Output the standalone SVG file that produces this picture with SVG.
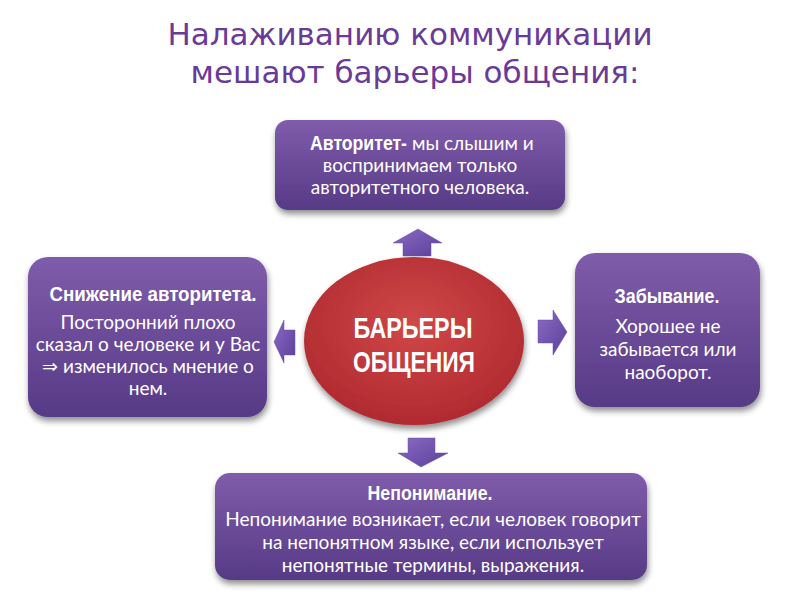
<svg xmlns="http://www.w3.org/2000/svg" width="800" height="600" viewBox="0 0 800 600">
<defs>
<linearGradient id="gBox" x1="0" y1="0" x2="0" y2="1">
<stop offset="0" stop-color="#7f5cab"/>
<stop offset="1" stop-color="#573a86"/>
</linearGradient>
<linearGradient id="gArrow" x1="0" y1="0" x2="1" y2="1">
<stop offset="0" stop-color="#8a6bc4"/>
<stop offset="1" stop-color="#5b3f99"/>
</linearGradient>
<radialGradient id="gEll" cx="0.5" cy="0.4" r="0.6">
<stop offset="0" stop-color="#d04848"/>
<stop offset="1" stop-color="#b02a30"/>
</radialGradient>
<filter id="sh" x="-10%" y="-10%" width="125%" height="130%">
<feGaussianBlur in="SourceAlpha" stdDeviation="3"/>
<feOffset dx="1" dy="4" result="b"/>
<feComponentTransfer><feFuncA type="linear" slope="0.45"/></feComponentTransfer>
<feMerge><feMergeNode/><feMergeNode in="SourceGraphic"/></feMerge>
</filter>
</defs>
<style>
.title{font-family:"DejaVu Sans",sans-serif;font-size:31px;fill:#6a3a98;text-anchor:middle}
.box{fill:url(#gBox);filter:url(#sh)}
.arr{fill:url(#gArrow);stroke:#6a4fa8;stroke-width:0.5}
.h{font-family:"Liberation Sans","DejaVu Sans",sans-serif;font-weight:bold;font-size:20.5px;fill:#fff;text-anchor:middle}
.t{font-family:Lato,"Noto Sans",sans-serif;font-size:19px;fill:#fff;text-anchor:middle}
.c{font-family:"Liberation Sans","DejaVu Sans",sans-serif;font-weight:bold;font-size:30px;fill:#fff;text-anchor:middle}
</style>
<rect width="800" height="600" fill="#fff"/>
<g id="title">
<text class="title" x="410" y="45">Налаживанию коммуникации</text>
<text class="title" x="415" y="83">мешают барьеры общения:</text>
</g>
<g id="connectors">
<polygon class="arr" points="403,256 403,243 393,243 418,229 442,243 431,243 431,256"/>
<polygon class="arr" points="295,330 284,330 284,320 274,342 284,363 284,355 295,355"/>
<polygon class="arr" points="538,320 553,320 553,310 567,332 553,355 553,343 538,343"/>
<polygon class="arr" points="408,438 435,438 435,453 448,453 421,467 398,453 408,453"/>
</g>
<g id="center">
<ellipse cx="414" cy="341" rx="110" ry="84" fill="url(#gEll)" filter="url(#sh)"/>
<text class="c" x="413" y="338" textLength="119" lengthAdjust="spacingAndGlyphs">БАРЬЕРЫ</text>
<text class="c" x="414" y="372" textLength="122" lengthAdjust="spacingAndGlyphs">ОБЩЕНИЯ</text>
</g>
<g id="top">
<rect class="box" x="275" y="120" width="290" height="90" rx="13"/>
<text class="h" style="text-anchor:start" x="310" y="150" textLength="97" lengthAdjust="spacingAndGlyphs">Авторитет-</text>
<text class="t" style="text-anchor:start" x="412" y="150">мы слышим и</text>
<text class="t" x="420" y="172">воспринимаем только</text>
<text class="t" x="420" y="194">авторитетного человека.</text>
</g>
<g id="left">
<rect class="box" x="28" y="257" width="239" height="160" rx="20"/>
<text class="h" x="153" y="301" textLength="207" lengthAdjust="spacingAndGlyphs">Снижение авторитета.</text>
<text class="t" x="148" y="329">Посторонний плохо</text>
<text class="t" x="148" y="351">сказал о человеке и у Вас</text>
<text class="t" x="148" y="373">⇒  изменилось мнение о</text>
<text class="t" x="148" y="395">нем.</text>
</g>
<g id="right">
<rect class="box" x="575" y="253" width="185" height="154" rx="20"/>
<text class="h" x="667" y="303" textLength="105" lengthAdjust="spacingAndGlyphs">Забывание.</text>
<text class="t" x="668" y="333">Хорошее не</text>
<text class="t" x="668" y="356">забывается или</text>
<text class="t" x="668" y="379">наоборот.</text>
</g>
<g id="bottom">
<rect class="box" x="215" y="473" width="432" height="107" rx="15"/>
<text class="h" x="430" y="500" textLength="125" lengthAdjust="spacingAndGlyphs">Непонимание.</text>
<text class="t" x="433" y="526">Непонимание возникает, если человек говорит</text>
<text class="t" x="433" y="549">на непонятном языке, если использует</text>
<text class="t" x="433" y="572">непонятные термины, выражения.</text>
</g>
</svg>
